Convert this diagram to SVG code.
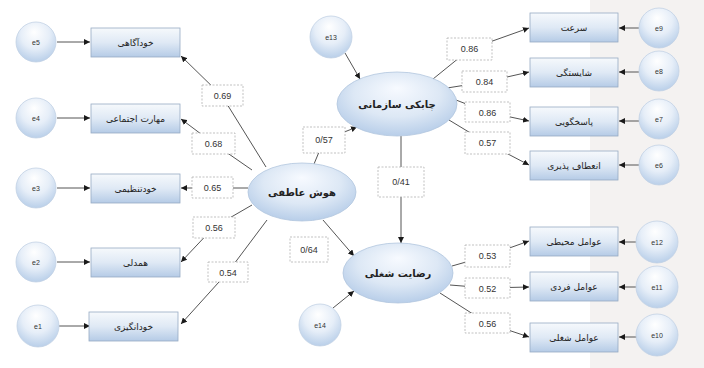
<svg xmlns="http://www.w3.org/2000/svg" width="704" height="368" viewBox="0 0 704 368">
<defs>
<linearGradient id="boxg" x1="0" y1="0" x2="0" y2="1">
<stop offset="0" stop-color="#f6f9fc"/>
<stop offset="0.5" stop-color="#dfe9f5"/>
<stop offset="1" stop-color="#b5cbe6"/>
</linearGradient>
<radialGradient id="circg" cx="0.5" cy="0.35" r="0.65" fx="0.45" fy="0.25">
<stop offset="0" stop-color="#ffffff"/>
<stop offset="0.55" stop-color="#e6eef8"/>
<stop offset="1" stop-color="#b9cfe9"/>
</radialGradient>
<radialGradient id="ellg" cx="0.5" cy="0.4" r="0.6" fx="0.5" fy="0.25">
<stop offset="0" stop-color="#f7faff"/>
<stop offset="0.6" stop-color="#dde8f5"/>
<stop offset="1" stop-color="#b8cee9"/>
</radialGradient>
<marker id="arr" markerWidth="6" markerHeight="6" refX="6" refY="3" orient="auto" markerUnits="userSpaceOnUse">
<path d="M0,0 L6,3 L0,6 z" fill="#1a1a1a"/>
</marker>
<style>
.box{fill:url(#boxg);stroke:#97abc4;stroke-width:0.8}
.circ{fill:url(#circg);stroke:#c3d2e4;stroke-width:0.8}
.ell{fill:url(#ellg);stroke:#b3c6de;stroke-width:0.8}
.fa{font-family:"DejaVu Sans","Noto Sans",sans-serif;font-size:9px;fill:#222;text-anchor:middle}
.fe{font-family:"DejaVu Sans","Noto Sans",sans-serif;font-size:10px;font-weight:bold;fill:#222;text-anchor:middle}
.ce{font-family:"Liberation Sans",Arial,sans-serif;font-size:7px;fill:#333;text-anchor:middle}
.con{fill:none;stroke:#555;stroke-width:1;marker-end:url(#arr)}
.lb{fill:#fff;stroke:#a8a8a8;stroke-width:0.7;stroke-dasharray:2 1.5}
.lt{font-family:"Liberation Sans",Arial,sans-serif;font-size:9px;fill:#333;text-anchor:middle}
</style>
</defs>
<rect x="0" y="0" width="704" height="368" fill="#ffffff"/>
<rect x="590" y="0" width="114" height="368" fill="#f4f2f1"/>

<g id="connectors">
<!-- error terms to indicators -->
<line class="con" x1="57" y1="42" x2="90" y2="42"/>
<line class="con" x1="57" y1="118" x2="90" y2="118"/>
<line class="con" x1="57" y1="188" x2="90" y2="188"/>
<line class="con" x1="57" y1="262" x2="90" y2="262"/>
<line class="con" x1="59" y1="326" x2="90" y2="326"/>
<line class="con" x1="639" y1="28" x2="619" y2="28"/>
<line class="con" x1="639" y1="72" x2="619" y2="72"/>
<line class="con" x1="639" y1="121" x2="619" y2="121"/>
<line class="con" x1="639" y1="165" x2="619" y2="165"/>
<line class="con" x1="637" y1="242" x2="619" y2="242"/>
<line class="con" x1="637" y1="287" x2="619" y2="287"/>
<line class="con" x1="637" y1="337" x2="619" y2="337"/>
<line class="con" x1="345" y1="53" x2="360" y2="79"/>
<line class="con" x1="333" y1="308" x2="354" y2="291"/>
<!-- emotional intelligence to indicators -->
<polyline class="con" points="266,167 222,96 181,56"/>
<polyline class="con" points="252,170 213,143 181,119"/>
<polyline class="con" points="248,188 212,188 181,188"/>
<polyline class="con" points="252,205 214,227 181,262"/>
<polyline class="con" points="267,220 228,272 181,324"/>
<!-- structural paths -->
<polyline class="con" points="314,164 324,140 357,127"/>
<line class="con" x1="401" y1="136" x2="401" y2="243"/>
<line class="con" x1="323" y1="220" x2="354" y2="256"/>
<!-- agility to indicators -->
<polyline class="con" points="433,79 470,49 529,28"/>
<polyline class="con" points="447,88 485,82 529,72"/>
<polyline class="con" points="456,100 487,112 529,121"/>
<polyline class="con" points="449,120 487,143 529,165"/>
<!-- satisfaction to indicators -->
<polyline class="con" points="452,266 487,256 529,241"/>
<polyline class="con" points="450,285 487,288 529,287"/>
<polyline class="con" points="440,293 487,323 529,337"/>
<!-- labels -->
<rect class="lb" x="202" y="85" width="41" height="21"/><text class="lt" x="222.5" y="99">0.69</text>
<rect class="lb" x="192" y="133" width="43" height="21"/><text class="lt" x="213.5" y="147">0.68</text>
<rect class="lb" x="192" y="177" width="41" height="21"/><text class="lt" x="212.5" y="191">0.65</text>
<rect class="lb" x="193" y="217" width="42" height="21"/><text class="lt" x="214" y="231">0.56</text>
<rect class="lb" x="208" y="262" width="40" height="20"/><text class="lt" x="228" y="275.5">0.54</text>
<rect class="lb" x="303" y="127" width="42" height="26"/><text class="lt" x="324" y="143">0/57</text>
<rect class="lb" x="290" y="237" width="38" height="25"/><text class="lt" x="309" y="252.5">0/64</text>
<rect class="lb" x="378" y="167" width="46" height="30"/><text class="lt" x="401" y="185">0/41</text>
<rect class="lb" x="447" y="38" width="45" height="22"/><text class="lt" x="469.5" y="52">0.86</text>
<rect class="lb" x="462" y="71" width="45" height="21"/><text class="lt" x="484.5" y="85">0.84</text>
<rect class="lb" x="465" y="102" width="45" height="20"/><text class="lt" x="487.5" y="115.5">0.86</text>
<rect class="lb" x="465" y="132" width="45" height="22"/><text class="lt" x="487.5" y="146">0.57</text>
<rect class="lb" x="465" y="245" width="45" height="22"/><text class="lt" x="487.5" y="259">0.53</text>
<rect class="lb" x="465" y="278" width="45" height="20"/><text class="lt" x="487.5" y="291.5">0.52</text>
<rect class="lb" x="465" y="313" width="45" height="20"/><text class="lt" x="487.5" y="326.5">0.56</text>
</g>

<!-- left error terms -->
<g id="e5"><circle class="circ" cx="36" cy="42" r="20"/><text class="ce" x="36" y="44.5">e5</text></g>
<g id="e4"><circle class="circ" cx="36" cy="118" r="20"/><text class="ce" x="36" y="120.5">e4</text></g>
<g id="e3"><circle class="circ" cx="36" cy="188" r="20"/><text class="ce" x="36" y="190.5">e3</text></g>
<g id="e2"><circle class="circ" cx="36" cy="262" r="20"/><text class="ce" x="36" y="264.5">e2</text></g>
<g id="e1"><circle class="circ" cx="38" cy="326" r="21"/><text class="ce" x="38" y="328.5">e1</text></g>

<!-- left indicators -->
<g id="self-awareness"><rect class="box" x="91" y="28" width="89" height="29"/><text class="fa" x="135.5" y="45.5">خودآگاهی</text></g>
<g id="social-skill"><rect class="box" x="91" y="104" width="89" height="29"/><text class="fa" x="135.5" y="121.5">مهارت اجتماعی</text></g>
<g id="self-regulation"><rect class="box" x="91" y="174" width="89" height="29"/><text class="fa" x="135.5" y="191.5">خودتنظیمی</text></g>
<g id="empathy"><rect class="box" x="91" y="248" width="89" height="29"/><text class="fa" x="135.5" y="265.5">همدلی</text></g>
<g id="self-motivation"><rect class="box" x="89" y="312" width="89" height="29"/><text class="fa" x="133.5" y="329.5">خودانگیزی</text></g>

<!-- latent variables -->
<g id="emotional-intelligence"><ellipse class="ell" cx="302" cy="192" rx="54" ry="29"/><text class="fe" x="302" y="196">هوش عاطفی</text></g>
<g id="organizational-agility"><ellipse class="ell" cx="397" cy="104" rx="60" ry="32"/><text class="fe" x="397" y="108">چابکی سازمانی</text></g>
<g id="job-satisfaction"><ellipse class="ell" cx="398" cy="273" rx="55" ry="30"/><text class="fe" x="398" y="277">رضایت شغلی</text></g>
<g id="e13"><circle class="circ" cx="331" cy="37" r="21"/><text class="ce" x="331" y="39.5">e13</text></g>
<g id="e14"><circle class="circ" cx="320" cy="325" r="21"/><text class="ce" x="320" y="327.5">e14</text></g>

<!-- right top indicators -->
<g id="speed"><rect class="box" x="530" y="13" width="88" height="29"/><text class="fa" x="574" y="30.5">سرعت</text></g>
<g id="competence"><rect class="box" x="530" y="58" width="88" height="29"/><text class="fa" x="574" y="75.5">شایستگی</text></g>
<g id="responsiveness"><rect class="box" x="530" y="107" width="88" height="29"/><text class="fa" x="574" y="124.5">پاسخگویی</text></g>
<g id="flexibility"><rect class="box" x="530" y="151" width="88" height="29"/><text class="fa" x="574" y="168.5">انعطاف پذیری</text></g>
<g id="e9"><circle class="circ" cx="659" cy="28" r="20"/><text class="ce" x="659" y="30.5">e9</text></g>
<g id="e8"><circle class="circ" cx="659" cy="71" r="20"/><text class="ce" x="659" y="73.5">e8</text></g>
<g id="e7"><circle class="circ" cx="659" cy="119" r="20"/><text class="ce" x="659" y="121.5">e7</text></g>
<g id="e6"><circle class="circ" cx="659" cy="165" r="20"/><text class="ce" x="659" y="167.5">e6</text></g>

<!-- right bottom indicators -->
<g id="environmental-factors"><rect class="box" x="530" y="227" width="88" height="29"/><text class="fa" x="574" y="244.5">عوامل محیطی</text></g>
<g id="individual-factors"><rect class="box" x="530" y="272" width="88" height="29"/><text class="fa" x="574" y="289.5">عوامل فردی</text></g>
<g id="job-factors"><rect class="box" x="530" y="323" width="88" height="29"/><text class="fa" x="574" y="340.5">عوامل شغلی</text></g>
<g id="e12"><circle class="circ" cx="657" cy="242" r="21"/><text class="ce" x="657" y="244.5">e12</text></g>
<g id="e11"><circle class="circ" cx="657" cy="287" r="21"/><text class="ce" x="657" y="289.5">e11</text></g>
<g id="e10"><circle class="circ" cx="657" cy="335" r="21"/><text class="ce" x="657" y="337.5">e10</text></g>
</svg>
